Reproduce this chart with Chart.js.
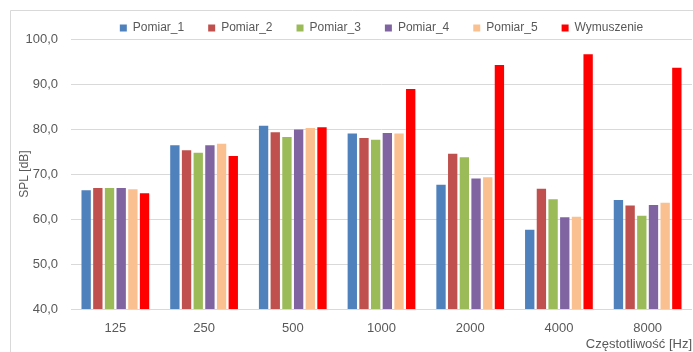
<!DOCTYPE html>
<html>
<head>
<meta charset="utf-8">
<script src="https://cdn.jsdelivr.net/npm/chart.js@4/dist/chart.umd.min.js"></script>
<style>
  html, body { margin: 0; padding: 0; background: #ffffff; }
  #wrap { width: 693px; height: 352px; }
</style>
</head>
<body>
<div id="wrap"><canvas id="c" width="693" height="352"></canvas></div>
<script>
// Frequency bands (Hz)
const categories = ['125', '250', '500', '1000', '2000', '4000', '8000'];

// Measured SPL [dB] per band
const pomiar1 = [66.4, 76.4, 80.7, 79.0, 67.6, 57.6, 64.2];
const pomiar2 = [66.9, 75.3, 79.3, 78.0, 74.5, 66.7, 63.0];
const pomiar3 = [66.9, 74.7, 78.2, 77.6, 73.7, 64.4, 60.7];
const pomiar4 = [66.9, 76.4, 79.9, 79.1, 69.0, 60.4, 63.1];
const pomiar5 = [66.6, 76.7, 80.2, 79.0, 69.3, 60.5, 63.6];
const wymuszenie = [65.7, 74.0, 80.4, 88.9, 94.2, 96.6, 93.6];

const seriesNames = ['Pomiar_1', 'Pomiar_2', 'Pomiar_3', 'Pomiar_4', 'Pomiar_5', 'Wymuszenie'];
const seriesValues = [pomiar1, pomiar2, pomiar3, pomiar4, pomiar5, wymuszenie];
const seriesColors = ['#4F81BD', '#C0504D', '#9BBB59', '#8064A2', '#FAC090', '#FF0000'];

const textColor = '#595959';
const gridColor = '#D9D9D9';
const fontFamily = '"Liberation Sans", Arial, sans-serif';

// Light outer frame of the chart
const framePlugin = {
  id: 'frame',
  beforeDraw(chart) {
    const ctx = chart.ctx;
    ctx.save();
    ctx.fillStyle = '#ffffff';
    ctx.fillRect(0, 0, chart.width, chart.height);
    ctx.strokeStyle = gridColor;
    ctx.lineWidth = 1;
    ctx.beginPath();
    ctx.moveTo(10.5, chart.height + 2);
    ctx.lineTo(10.5, 10.5);
    ctx.lineTo(chart.width + 2, 10.5);
    ctx.stroke();
    ctx.restore();
  }
};

// Keep the legend row compact vertically while its items stay widely spaced
const compactLegend = {
  id: 'compactLegend',
  beforeLayout(chart) {
    const legend = chart.legend;
    if (legend && !legend._compactPatched) {
      const fit = legend.fit;
      legend.fit = function () {
        fit.call(this);
        this.height = 41;
      };
      legend._compactPatched = true;
    }
  }
};

new Chart(document.getElementById('c'), {
  type: 'bar',
  data: {
    labels: categories,
    datasets: seriesNames.map((name, i) => ({
      label: name,
      data: seriesValues[i],
      backgroundColor: seriesColors[i],
      borderWidth: 0,
      categoryPercentage: 0.79,
      barPercentage: 0.8
    }))
  },
  options: {
    responsive: false,
    devicePixelRatio: 1,
    animation: false,
    layout: { padding: { top: -2, right: 1, bottom: 0, left: 0 } },
    plugins: {
      tooltip: { enabled: false },
      legend: {
        position: 'top',
        fullSize: false,
        labels: {
          boxWidth: 7,
          boxHeight: 7,
          padding: 24,
          color: textColor,
          font: { family: fontFamily, size: 12 }
        }
      }
    },
    scales: {
      x: {
        grid: { display: false, drawTicks: false },
        border: { display: false },
        ticks: {
          color: textColor,
          padding: 12,
          font: { family: fontFamily, size: 13 }
        },
        title: {
          display: true,
          text: 'Częstotliwość [Hz]',
          align: 'end',
          color: textColor,
          padding: { top: 0, bottom: 0 },
          font: { family: fontFamily, size: 13 }
        },
        afterFit(scale) { scale.height = 43; }
      },
      y: {
        min: 40,
        max: 100,
        grid: { color: gridColor, lineWidth: 1, drawTicks: false },
        border: { display: false },
        ticks: {
          stepSize: 10,
          color: textColor,
          padding: 13,
          font: { family: fontFamily, size: 13 },
          callback: (v) => v.toFixed(1).replace('.', ',')
        },
        title: {
          display: true,
          text: 'SPL [dB]',
          color: textColor,
          padding: { top: 17, bottom: 0 },
          font: { family: fontFamily, size: 12 }
        },
        afterFit(scale) { scale.width = 71; }
      }
    }
  },
  plugins: [framePlugin, compactLegend]
});
</script>
</body>
</html>
